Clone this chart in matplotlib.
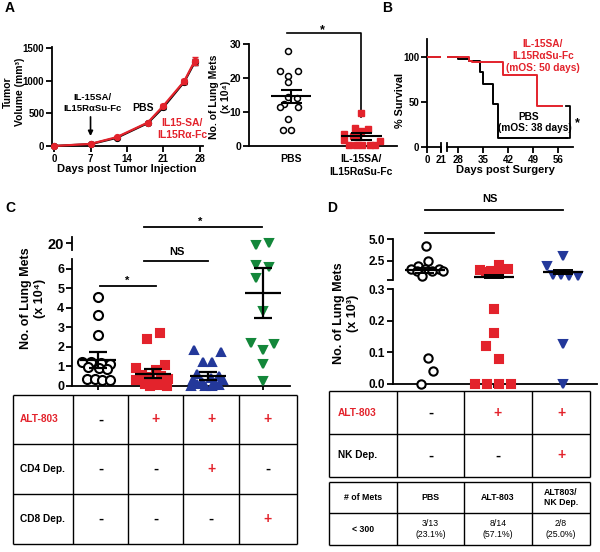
import matplotlib
matplotlib.use('Agg')
import matplotlib.pyplot as plt
import numpy as np

plt.rcParams['font.family'] = ['Liberation Sans', 'DejaVu Sans']
plt.rcParams['font.weight'] = 'bold'
plt.rcParams['axes.linewidth'] = 1.3

RED = '#e3232c'
BLUE = '#23389a'
GREEN = '#13873a'

# ---------------- data ----------------
# Panel A (tumor growth)
a_days = [0, 7, 12, 18, 21, 25, 27]
a_pbs = [0, 28, 125, 352, 595, 985, 1285]
a_pbs_err = [0, 4, 8, 15, 20, 35, 45]
a_il15 = [0, 32, 135, 360, 618, 995, 1305]
a_il15_err = [0, 4, 8, 15, 25, 40, 60]
a_ticks_x = [0, 7, 14, 21, 28]
a_ticks_y = [0, 500, 1000, 1500]

# Panel A (lung mets)
am_cats = ['PBS', 'IL-15SA/\nIL15R\u03b1Su-Fc']
am_pbs = [28, 22, 22, 20.6, 18.7, 14.5, 14.0, 12.5, 11.4, 11.4, 7.8, 4.6, 4.6]
am_pbs_off = [-0.05, -0.16, 0.1, -0.05, -0.05, -0.05, 0.08, -0.1, -0.16, 0.1, -0.05, -0.12, 0.0]
am_il = [9.6, 5.2, 5.0, 4.3, 3.4, 3.0, 2.6, 1.7, 1.6, 0.4, 0.4, 0.4, 0.4, 0.4]
am_il_off = [0.0, -0.09, 0.1, 0.0, -0.25, -0.12, -0.04, -0.25, 0.27, -0.17, -0.08, 0.01, 0.12, 0.2]
am_mean = [14.6, 2.8]
am_sem = [2.0, 0.9]

# Panel B (survival)
b_pbs_t = [0, 28, 31.2, 34.2, 35.1, 37.9, 39.3, 58.4]
b_pbs_s = [100, 98, 95.5, 83.5, 69.5, 47.5, 10.5, 10.5]
b_il_t = [0, 31.2, 32, 40.7, 50.0, 57.0]
b_il_s = [100, 96, 94.5, 80.5, 45.5, 45.5]

# Panel C
c_mean = [1.3, 0.6, 0.5, 4.75]
c_sem_hi = [1.7, 0.85, 0.7, 6.05]
c_sem_lo = [0.9, 0.4, 0.3, 3.45]
c_g0 = [4.55, 3.65, 2.6, 1.2, 1.2, 1.15, 1.1, 0.95, 0.9, 0.85, 0.35, 0.35, 0.3, 0.3]
c_g0_off = [0, 0, 0, -0.28, -0.12, 0.06, 0.22, -0.18, 0.02, 0.16, -0.2, -0.06, 0.08, 0.22]
c_g1 = [2.7, 2.4, 1.05, 0.92, 0.8, 0.55, 0.5, 0.45, 0.35, 0.3, 0.2, 0.15, 0.1, 0.05, 0.0, 0.0]
c_g1_off = [0.13, -0.1, 0.22, -0.31, 0.05, -0.2, 0.15, -0.05, 0.28, -0.3, 0.0, 0.2, -0.15, 0.1, -0.05, 0.25]
c_g2 = [1.83, 1.75, 1.23, 1.23, 0.6, 0.5, 0.4, 0.3, 0.3, 0.2, 0.15, 0.1, 0.05, 0.0, 0.0, 0.0]
c_g2_off = [-0.25, 0.24, -0.09, 0.07, -0.2, 0.2, 0.05, -0.28, 0.27, -0.1, 0.12, -0.2, 0.2, -0.05, 0.08, -0.3]
c_g3 = [20.1, 19.7, 6.2, 6.1, 5.5, 3.85, 2.18, 2.13, 1.83, 1.1, 0.24]
c_g3_off = [0.11, -0.13, -0.13, 0.11, -0.12, 0.0, -0.22, 0.2, 0.0, 0.0, 0.0]
c_rows = ['ALT-803', 'CD4 Dep.', 'CD8 Dep.']
c_table = [['-', '+', '+', '+'],
           ['-', '-', '+', '-'],
           ['-', '-', '-', '+']]

# Panel D (x 10^3)
d_g0 = [4.2, 2.5, 1.85, 1.6, 1.6, 1.6, 1.3, 1.3, 1.3, 0.75, 0.081, 0.041, 0.0]
d_g0_off = [0.01, 0.05, -0.1, -0.2, 0.0, 0.2, -0.12, 0.1, 0.26, -0.04, 0.04, 0.12, -0.06]
d_g1 = [2.0, 1.55, 1.4, 1.35, 1.3, 1.25, 0.237, 0.16, 0.12, 0.08, 0.0, 0.0, 0.0, 0.0]
d_g1_off = [0.07, 0.2, -0.2, -0.05, 0.08, -0.12, 0.0, 0.0, -0.11, 0.07, -0.27, -0.1, 0.07, 0.24]
d_g2 = [3.0, 1.85, 0.9, 0.85, 0.8, 0.75, 0.126, 0.0]
d_g2_off = [0.0, -0.24, -0.15, -0.03, 0.09, 0.22, 0.0, 0.0]
d_mean = [1.4, 0.7, 1.2]
d_sem = [0.25, 0.15, 0.2]
d_rows = ['ALT-803', 'NK Dep.']
d_table = [['-', '+', '+'], ['-', '-', '+']]
d_head = ['# of Mets', 'PBS', 'ALT-803', 'ALT803/\nNK Dep.']
d_row2 = ['< 300', '3/13\n(23.1%)', '8/14\n(57.1%)', '2/8\n(25.0%)']

# ---------------- figure ----------------
W, H = 600, 552
fig = plt.figure(figsize=(6, 5.52), dpi=100)


def pax(x0, y0, x1, y1):
    return fig.add_axes([x0 / W, 1 - y1 / H, (x1 - x0) / W, (y1 - y0) / H])


def style(ax, left=True, bottom=True, fs=7):
    for s in ['top', 'right']:
        ax.spines[s].set_visible(False)
    ax.spines['left'].set_visible(left)
    ax.spines['bottom'].set_visible(bottom)
    ax.tick_params(direction='out', length=4, width=1.3, labelsize=fs, pad=1.5)
    ax.patch.set_alpha(0)


ov = fig.add_axes([0, 0, 1, 1])
ov.set_xlim(0, W)
ov.set_ylim(H, 0)
ov.axis('off')
ov.patch.set_alpha(0)

# panel letters
for lab, x, y in [('A', 10, 8), ('B', 387, 8), ('C', 10, 208), ('D', 332, 208)]:
    ov.text(x, y, lab, fontsize=10, fontweight='bold', ha='center', va='center')

# ---- Panel A tumor growth
ax = pax(52, 47, 203, 146)
ax.errorbar(a_days, a_pbs, yerr=a_pbs_err, color='black', marker='o', ms=4.2,
            lw=1.6, capsize=2, elinewidth=1.2, clip_on=False, zorder=3)
ax.errorbar(a_days, a_il15, yerr=a_il15_err, color=RED, marker='o', ms=4.2,
            lw=1.6, capsize=2, elinewidth=1.2, clip_on=False, zorder=4)
ax.set_xlim(-0.4, 28.6)
ax.set_ylim(0, 1520)
ax.set_xticks(a_ticks_x)
ax.set_yticks(a_ticks_y)
style(ax, fs=7)
ax.annotate('', xy=(7, 110), xytext=(7, 490),
            arrowprops=dict(arrowstyle='-|>', color='black', lw=1.2, mutation_scale=7))
ov.text(92, 103, 'IL-15SA/\nIL15R\u03b1Su-Fc', fontsize=6.8, ha='center', va='center',
        linespacing=1.25)
ov.text(143, 108, 'PBS', fontsize=7.5, ha='center', va='center')
ov.text(182, 129, 'IL15-SA/\nIL15R\u03b1-Fc', fontsize=7.5, ha='center', va='center',
        color=RED, linespacing=1.3)
ov.text(127, 169, 'Days post Tumor Injection', fontsize=8, ha='center', va='center')
ov.text(14, 92, 'Tumor\nVolume (mm\u00b3)', fontsize=7.5, ha='center', va='center',
        rotation=90, linespacing=1.2)

# ---- Panel A lung mets
ax = pax(249, 44, 397, 146)
ax.plot(np.array(am_pbs_off) + 0, am_pbs, 'o', mfc='white', mec='black', mew=1.1, ms=4.3,
        clip_on=False, zorder=3)
ax.plot(np.array(am_il_off) + 1, am_il, 's', color=RED, ms=3.8, clip_on=False, zorder=3)
for i, (m, s) in enumerate(zip(am_mean, am_sem)):
    ax.hlines(m, i - 0.29, i + 0.29, color='black', lw=1.5, zorder=4)
    ax.vlines(i, m - s, m + s, color='black', lw=1.5, zorder=4)
    ax.hlines([m - s, m + s], i - 0.15, i + 0.15, color='black', lw=1.5, zorder=4)
ax.set_xlim(-0.6, 1.51)
ax.set_ylim(0, 30)
ax.set_yticks([0, 10, 20, 30])
ax.set_xticks([0, 1])
ax.set_xticklabels(am_cats, fontsize=7.5, linespacing=1.3)
style(ax, fs=7.5)
ax.tick_params(axis='x', length=0, pad=6)
ax.plot([-0.06, 1, 1], [33.2, 33.2, 8.6], color='black', lw=1.2, clip_on=False)
ov.text(322, 30, '*', fontsize=9, ha='center', va='center')
ov.text(220, 97, 'No. of Lung Mets\n(x 10\u2074)', fontsize=7.5, ha='center', va='center',
        rotation=90, linespacing=1.15)

# ---- Panel B survival (broken x axis)
axL = pax(427, 39, 441, 147)
axR = pax(447, 39, 573, 147)
for a in (axL, axR):
    a.step(b_pbs_t, b_pbs_s, where='post', color='black', lw=1.4, zorder=3)
    a.step(b_il_t, b_il_s, where='post', color=RED, lw=1.4, zorder=4)
    a.set_ylim(0, 120)
axL.set_xlim(0, 21)
axL.set_xticks([0, 21])
axL.set_yticks([0, 50, 100])
style(axL, fs=7)
axR.set_xlim(24.9, 60.2)
axR.set_xticks([28, 35, 42, 49, 56])
style(axR, left=False, fs=7)
axR.set_yticks([])
axL.plot([21, 21], [-4, 4], color='black', lw=1.3, clip_on=False)
axR.plot([24.9, 24.9], [-4, 4], color='black', lw=1.3, clip_on=False)
axR.plot([58.3, 59.4, 59.4, 58.3], [45.5, 45.5, 10.5, 10.5], color='black', lw=1.3,
         clip_on=False)
ov.text(577, 123, '*', fontsize=9, ha='center', va='center')
ov.text(543, 56, 'IL-15SA/\nIL15R\u03b1Su-Fc\n(mOS: 50 days)', fontsize=7.3, color=RED,
        ha='center', va='center', linespacing=1.2)
ov.text(529, 117, 'PBS', fontsize=7.3, ha='center', va='center')
ov.text(535, 128, '(mOS: 38 days)', fontsize=7.3, ha='center', va='center')
ov.text(505, 170, 'Days post Surgery', fontsize=8, ha='center', va='center')
ov.text(400, 100, '% Survival', fontsize=7.8, ha='center', va='center', rotation=90)

# ---- Panel C
groupsC = [(c_g0, c_g0_off, 'o', 'white', 'black'), (c_g1, c_g1_off, 's', RED, RED),
           (c_g2, c_g2_off, '^', BLUE, BLUE), (c_g3, c_g3_off, 'v', GREEN, GREEN)]
axC = pax(72, 259, 290, 385.6)
axCu = pax(72, 237, 290, 250)
for i, (vals, offs, mk, fc, ec) in enumerate(groupsC):
    vals = np.array(vals)
    offs = np.array(offs)
    lo = vals <= 6.5
    ms = 6.5 if mk == 'o' else 6.0
    axC.plot(i + offs[lo], vals[lo], mk, mfc=fc, mec=ec, mew=1.5, ms=ms,
             clip_on=False, zorder=3)
    if (~lo).any():
        axCu.plot(i + offs[~lo], vals[~lo], mk, mfc=fc, mec=ec, mew=1.5, ms=ms,
                  clip_on=False, zorder=3)
for i in range(4):
    axC.hlines(c_mean[i], i - 0.33, i + 0.33, color='black', lw=1.6, zorder=5)
    axC.vlines(i, c_sem_lo[i], c_sem_hi[i], color='black', lw=1.6, zorder=5)
    axC.hlines([c_sem_lo[i], c_sem_hi[i]], i - 0.16, i + 0.16, color='black', lw=1.6, zorder=5)
axC.set_xlim(-0.47, 3.49)
axC.set_ylim(0, 6.5)
axC.set_yticks(range(7))
axC.set_xticks(range(4))
axC.set_xticklabels([])
style(axC, fs=9)
axC.tick_params(axis='x', length=3)
axCu.set_xlim(-0.47, 3.49)
axCu.set_ylim(18.5, 21.5)
axCu.set_yticks([20])
axCu.set_xticks([])
style(axCu, bottom=False, fs=10.5)
# significance
axC.plot([0.04, 1.05], [5.13, 5.13], color='black', lw=1.3, clip_on=False)
axC.plot([0.84, 2.0], [6.42, 6.42], color='black', lw=1.3, clip_on=False)
axC.plot([0.84, 2.98], [8.12, 8.12], color='black', lw=1.3, clip_on=False)
ov.text(127, 281, '*', fontsize=8, ha='center', va='center')
ov.text(177, 252, 'NS', fontsize=8, ha='center', va='center')
ov.text(200, 222, '*', fontsize=8, ha='center', va='center')
ov.text(33, 298, 'No. of Lung Mets\n(x 10\u2074)', fontsize=9, ha='center', va='center',
        rotation=90, linespacing=1.15)

# table C
cx = [13, 73, 128, 183, 239, 297]
cy = [395, 444, 494, 544]
ov.vlines(cx, cy[0], cy[-1], color='black', lw=1.0)
ov.hlines(cy, cx[0], cx[-1], color='black', lw=1.0)
for r, name in enumerate(c_rows):
    yc = (cy[r] + cy[r + 1]) / 2
    ov.text(20, yc, name, fontsize=7.3, ha='left', va='center',
            color=RED if r == 0 else 'black')
    for c, sgn in enumerate(c_table[r]):
        xc = (cx[c + 1] + cx[c + 2]) / 2
        ov.text(xc, yc, sgn, fontsize=10 if sgn == '+' else 11, ha='center', va='center',
                color=RED if sgn == '+' else 'black')

# ---- Panel D
groupsD = [(d_g0, d_g0_off, 'o', 'white', 'black'), (d_g1, d_g1_off, 's', RED, RED),
           (d_g2, d_g2_off, 'v', BLUE, BLUE)]
axD = pax(393, 289, 597, 384)
axDu = pax(393, 239, 597, 280)
for i, (vals, offs, mk, fc, ec) in enumerate(groupsD):
    vals = np.array(vals)
    offs = np.array(offs)
    lo = vals <= 0.3
    ms = 6.0 if mk == 'o' else 5.5
    axD.plot(i + offs[lo], vals[lo], mk, mfc=fc, mec=ec, mew=1.5, ms=ms,
             clip_on=False, zorder=3)
    axDu.plot(i + offs[~lo], vals[~lo], mk, mfc=fc, mec=ec, mew=1.5, ms=ms,
              clip_on=False, zorder=3)
for i in range(3):
    axDu.hlines(d_mean[i], i - 0.29, i + 0.29, color='black', lw=1.6, zorder=5)
    axDu.vlines(i, d_mean[i] - d_sem[i], d_mean[i] + d_sem[i], color='black', lw=1.4, zorder=5)
    axDu.hlines([d_mean[i] - d_sem[i], d_mean[i] + d_sem[i]], i - 0.14, i + 0.14,
                color='black', lw=1.4, zorder=5)
axD.set_xlim(-0.46, 2.49)
axD.set_ylim(0, 0.3)
axD.set_yticks([0, 0.1, 0.2, 0.3])
axD.set_yticklabels(['0.0', '0.1', '0.2', '0.3'])
axD.set_xticks(range(3))
axD.set_xticklabels([])
style(axD, fs=8.5)
axD.tick_params(axis='x', length=3)
axDu.set_xlim(-0.46, 2.49)
axDu.set_ylim(0.3, 5.0)
axDu.set_yticks([0.3, 2.5, 5.0])
axDu.set_yticklabels(['', '2.5', '5.0'])
axDu.set_xticks([])
style(axDu, bottom=False, fs=8.5)
axDu.plot([0, 2.0], [8.3, 8.3], color='black', lw=1.3, clip_on=False)
axDu.plot([0, 1.0], [5.68, 5.68], color='black', lw=1.3, clip_on=False)
ov.text(490, 199, 'NS', fontsize=8, ha='center', va='center')
ov.text(346, 313, 'No. of Lung Mets\n(x 10\u00b3)', fontsize=9, ha='center', va='center',
        rotation=90, linespacing=1.15)

# table D1
dx = [329, 397, 464, 532, 590]
dy = [391, 434, 477]
ov.vlines(dx, dy[0], dy[-1], color='black', lw=1.0)
ov.hlines(dy, dx[0], dx[-1], color='black', lw=1.0)
for r, name in enumerate(d_rows):
    yc = (dy[r] + dy[r + 1]) / 2
    ov.text(338, yc, name, fontsize=7.3, ha='left', va='center',
            color=RED if r == 0 else 'black')
    for c, sgn in enumerate(d_table[r]):
        xc = (dx[c + 1] + dx[c + 2]) / 2
        ov.text(xc, yc, sgn, fontsize=10 if sgn == '+' else 11, ha='center', va='center',
                color=RED if sgn == '+' else 'black')

# table D2
dy2 = [482, 513, 545]
ov.vlines(dx, dy2[0], dy2[-1], color='black', lw=1.0)
ov.hlines(dy2, dx[0], dx[-1], color='black', lw=1.0)
for c in range(4):
    xc = (dx[c] + dx[c + 1]) / 2
    ov.text(xc, (dy2[0] + dy2[1]) / 2, d_head[c], fontsize=6.3, ha='center', va='center',
            linespacing=1.2)
    ov.text(xc, (dy2[1] + dy2[2]) / 2, d_row2[c], fontsize=6.3, ha='center', va='center',
            fontweight='bold' if c == 0 else 'normal', linespacing=1.2)

fig.savefig('out.png', dpi=100)
